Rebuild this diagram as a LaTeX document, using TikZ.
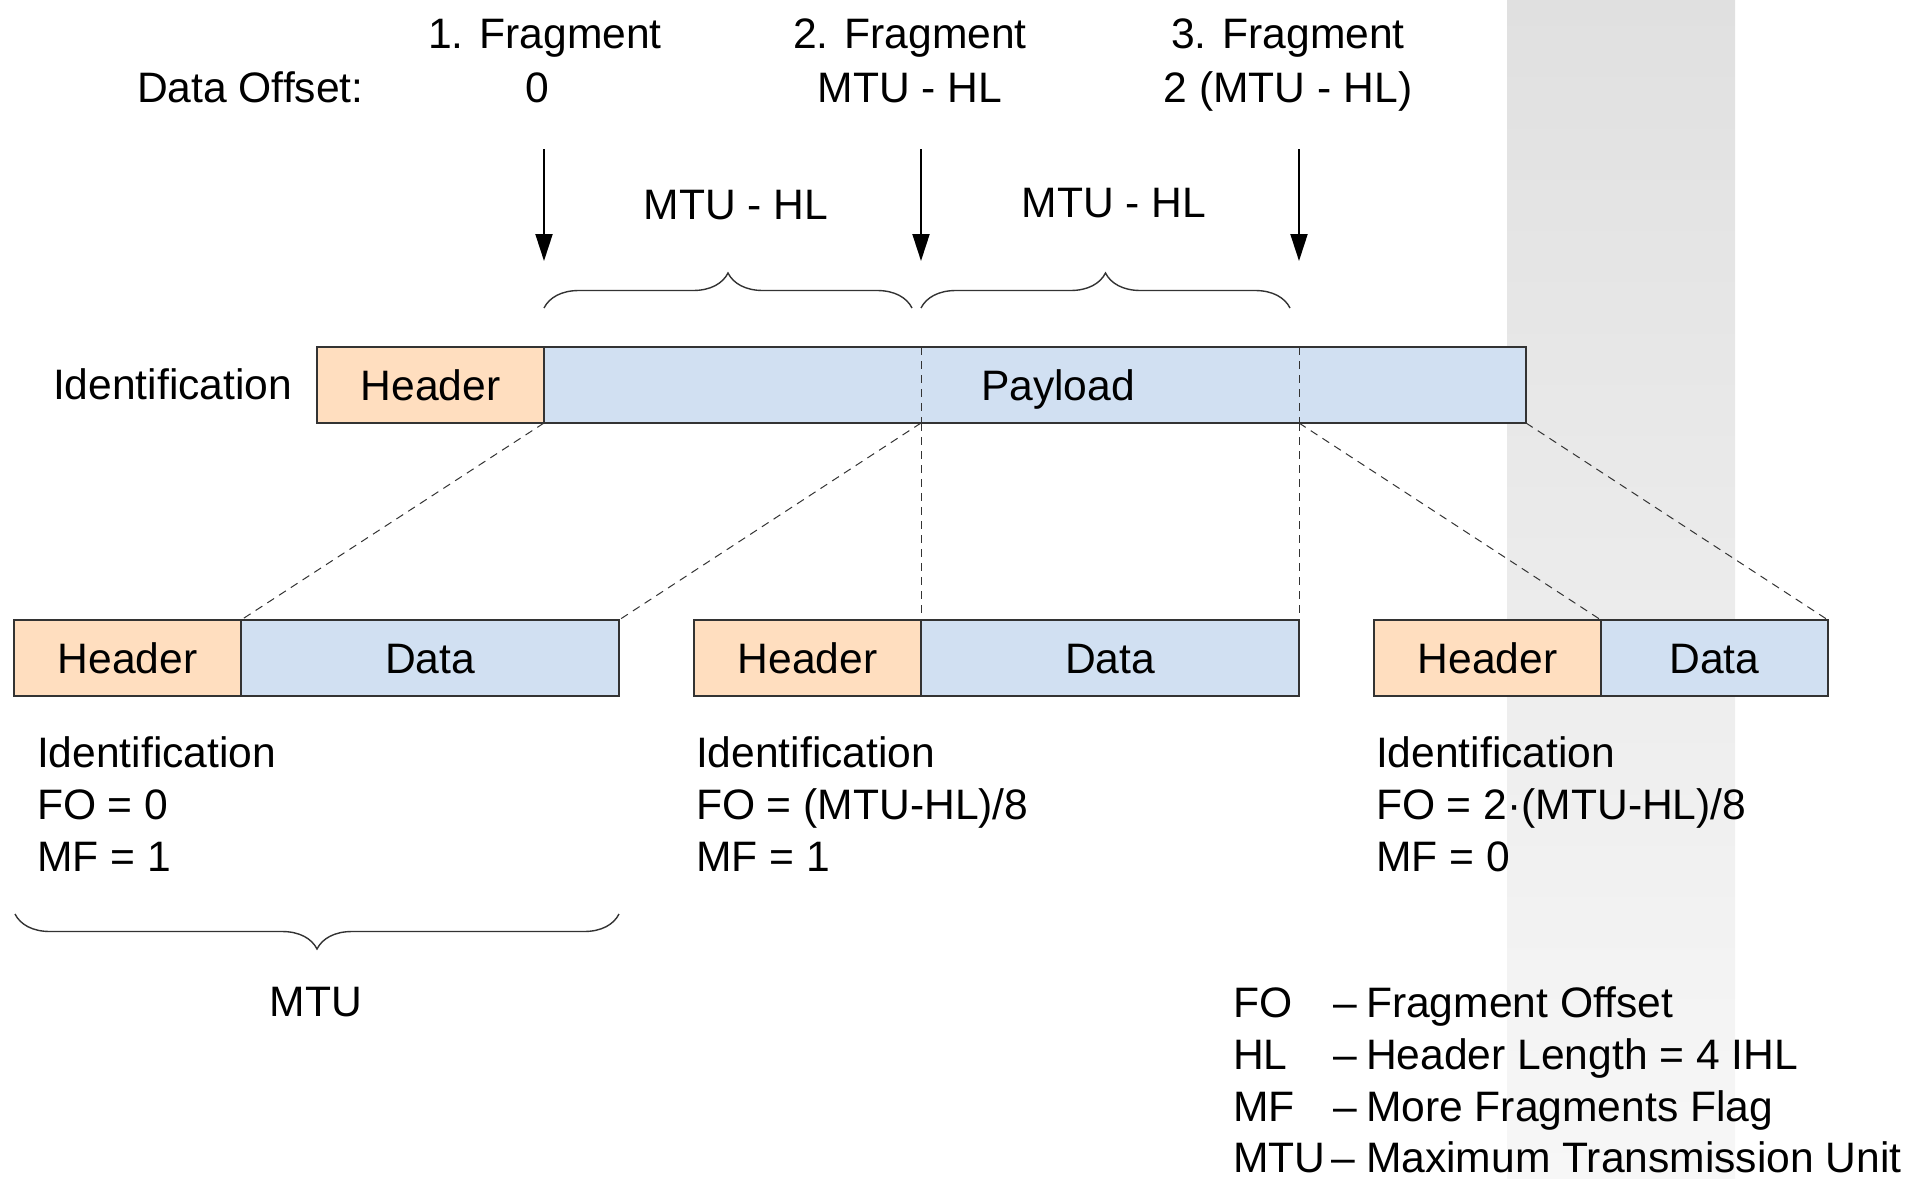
\documentclass[tikz,border=0pt]{standalone}
\usepackage{fontspec}
\setmainfont{Liberation Sans}
\usetikzlibrary{arrows.meta,decorations.pathreplacing}

\definecolor{hdrfill}{RGB}{255,222,191}
\definecolor{payfill}{RGB}{209,224,242}
\definecolor{edgegray}{RGB}{51,51,51}
\definecolor{bandtop}{RGB}{224,224,224}
\definecolor{bandbot}{RGB}{247,247,247}

\begin{document}
\begin{tikzpicture}[x=0.5pt,y=-0.5pt,
  every node/.style={font=\fontsize{21.3}{25}\selectfont, inner sep=0pt, outer sep=0pt},
  cell/.style={draw=edgegray, line width=0.8pt, minimum height=38pt,
               anchor=north west, text height=15.25pt, text depth=0pt},
  hdrcell/.style={cell, fill=hdrfill, minimum width=113.5pt},
  datacell/.style={cell, fill=payfill},
  lbl/.style={anchor=base},
  lbll/.style={anchor=base west},
  dashln/.style={draw=edgegray, line width=0.5pt, dash pattern=on 4pt off 3pt},
  offarrow/.style={draw=black, line width=1pt, -{Triangle[length=13.5pt,width=8.5pt]}},
  brc/.style={draw=edgegray, line width=0.7pt, decorate,
              decoration={brace, amplitude=17.5pt}}
]
% page frame and shaded band
\useasboundingbox (0,0) rectangle (1911,1178);
\shade[top color=bandtop, bottom color=bandbot] (1507,0) rectangle (1735,1178);

% fragment offsets
\node[lbl] (f1) at (545,48) {1. Fragment};
\node[lbl] (o1) at (537,102) {0};
\node[lbl] (f2) at (910,48) {2. Fragment};
\node[lbl] (o2) at (910,102) {MTU - HL};
\node[lbl] (f3) at (1288,48) {3. Fragment};
\node[lbl] (o3) at (1288,102) {2 (MTU - HL)};
\node[lbll] (doff) at (137,102) {Data Offset:};

% offset arrows
\coordinate (a1s) at (544,149); \coordinate (a1e) at (544,261);
\coordinate (a2s) at (921,149); \coordinate (a2e) at (921,261);
\coordinate (a3s) at (1299,149); \coordinate (a3e) at (1299,261);
\draw[offarrow] (a1s) -- (a1e);
\draw[offarrow] (a2s) -- (a2e);
\draw[offarrow] (a3s) -- (a3e);

% payload slices
\node[lbl] (s1) at (736,219) {MTU - HL};
\node[lbl] (s2) at (1114,217) {MTU - HL};
\coordinate (b1l) at (544,308); \coordinate (b1r) at (912,308);
\coordinate (b2l) at (921,308); \coordinate (b2r) at (1290,308);
\draw[brc] (b1l) -- (b1r);
\draw[brc] (b2l) -- (b2r);

% original datagram
\node[lbll] (ident) at (53,399) {Identification};
\node[hdrcell] (h0) at (317,347) {Header};
\node[datacell, minimum width=491pt] (pay) at (h0.north east) {};
\node[lbl] (plabel) at (1058,400) {Payload};

% fragments
\node[hdrcell] (fh1) at (14,620) {Header};
\node[datacell, minimum width=189pt] (fd1) at (fh1.north east) {Data};
\node[hdrcell] (fh2) at (694,620) {Header};
\node[datacell, minimum width=189pt] (fd2) at (fh2.north east) {Data};
\node[hdrcell] (fh3) at (1374,620) {Header};
\node[datacell, minimum width=113.5pt] (fd3) at (fh3.north east) {Data};

% slice borders inside the payload
\draw[dashln] (fd2.north west |- pay.north) -- (fd2.north west |- pay.south);
\draw[dashln] (fd2.north east |- pay.north) -- (fd2.north east |- pay.south);

% payload slices mapped onto fragments
\draw[dashln] (pay.south west) -- (fd1.north west);
\draw[dashln] (fd2.north west |- pay.south) -- (fd1.north east);
\draw[dashln] (fd2.north west |- pay.south) -- (fd2.north west);
\draw[dashln] (fd2.north east |- pay.south) -- (fd2.north east);
\draw[dashln] (fd2.north east |- pay.south) -- (fd3.north west);
\draw[dashln] (pay.south east) -- (fd3.north east);

% header fields of each fragment
\node[lbll] (id1) at (37,767) {Identification};
\node[lbll] (fo1) at (37,819) {FO = 0};
\node[lbll] (mf1) at (37,871) {MF = 1};
\node[lbll] (id2) at (696,767) {Identification};
\node[lbll] (fo2) at (696,819) {FO = (MTU-HL)/8};
\node[lbll] (mf2) at (696,871) {MF = 1};
\node[lbll] (id3) at (1376,767) {Identification};
\node[lbll] (fo3) at (1376,819) {FO = 2·(MTU-HL)/8};
\node[lbll] (mf3) at (1376,871) {MF = 0};

% fragment size
\coordinate (mb1) at (619,914); \coordinate (mb2) at (15,914);
\draw[brc] (mb1) -- (mb2);
\node[lbl] (mtu) at (316,1016) {MTU};

% legend
\node[lbll] (la1) at (1233,1017) {FO};
\node[lbll] (ld1) at (1333,1017) {–};
\node[lbll] (lt1) at (1366,1017) {Fragment Offset};
\node[lbll] (la2) at (1233,1069) {HL};
\node[lbll] (ld2) at (1333,1069) {–};
\node[lbll] (lt2) at (1366,1069) {Header Length = 4 IHL};
\node[lbll] (la3) at (1233,1121) {MF};
\node[lbll] (ld3) at (1333,1121) {–};
\node[lbll] (lt3) at (1366,1121) {More Fragments Flag};
\node[lbll] (la4) at (1233,1172) {MTU};
\node[lbll] (ld4) at (1331,1172) {–};
\node[lbll] (lt4) at (1366,1172) {Maximum Transmission Unit};
\end{tikzpicture}
\end{document}
